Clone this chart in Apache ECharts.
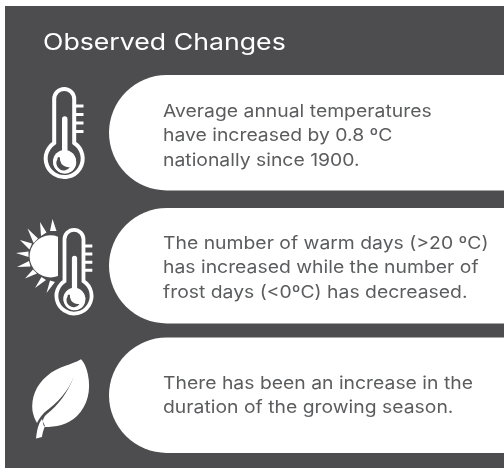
<!DOCTYPE html>
<html><head><meta charset="utf-8">
<style>html,body{margin:0;padding:0;background:#fff}#c{width:504px;height:468px}</style>
<script src="https://cdn.jsdelivr.net/npm/echarts@6/dist/echarts.min.js"></script></head>
<body><div id="c"></div>
<script>
const title = 'Observed Changes';
const panelColor = '#4d4d4f';
const textColor = '#5b5c5e';
const font = 'Inter, "Open Sans", sans-serif';
const card1 = ['Average annual temperatures', 'have increased by 0.8 ºC', 'nationally since 1900.'];
const card2 = ['The number of warm days (>20 ºC)', 'has increased while the number of', 'frost days (<0ºC) has decreased.'];
const card3 = ['There has been an increase in the', 'duration of the growing season.'];
const cards = [card1, card2, card3];
const cardTops = [75, 208, 337.5];
const cardHeight = 115.5;
const firstLineY = [111.3, 243.6, 383.6];

const thermoTube = 'M54.2 143 L54.2 99 A10 10 0 0 1 74.2 99 L74.2 143 A18.5 18.5 0 1 1 54.2 143 Z';
const thermoFill = 'M62 119 A2.7 2.7 0 0 1 67.5 119 L67.5 151 A11.5 11.5 0 1 1 62 151 Z';
const thermoMoon = 'M57.5 159 A7.2 7.2 0 0 0 70 167 A8.4 8.4 0 0 1 60 158 A1.3 1.3 0 0 0 57.5 159 Z';
const thermoTicks = 'M74 106 L83.5 106 M74 114.5 L83.5 114.5 M74 123 L83.5 123 M74 131.5 L83.5 131.5';
const sunDisc = 'M58 236.7 A21 21 0 1 0 58 276 Z';
const sunRays = 'M52.5 219 L56.5 231 L50 231 Z M40 222 L46.5 232.5 L41 236 Z M27.5 228.5 L38 238.5 L33.5 243 Z M20 240 L32 243.5 L29.5 249.5 Z M16 253 L28.5 251.5 L28.5 257 Z M17 267 L29 261 L30.5 266.5 Z M25 278.5 L33 269.5 L37 273.5 Z M35 288 L41.5 277 L46 280 Z M46.5 293 L50 280.5 L55 282 Z';
const leaf = 'M81 359.3 C72 365 58 366 47 376 C36 385 31 398 32.5 411 C33.5 416 35 420 37 423 C40 417 42 415 45 412 C58 402 68 392 74 376 C68 393 58 405 47 414 C43 417 41 423 45 427 C55 427 68 425 77 416 C88 405 91 390 88 375 C87 369 84 362 81 359.3 Z M45 426 C43 431 42 435 42 437 L36 438.5 C37 431 38 424 42 419 C43 422 44 424 45 426 Z';

function thermometer(x, y, s) {
  const base = {x: x, y: y, scaleX: s, scaleY: s};
  return [
    Object.assign({type: 'path', shape: {pathData: thermoTube}, style: {fill: 'none', stroke: '#fff', lineWidth: 4}}, base),
    Object.assign({type: 'path', shape: {pathData: thermoTicks}, style: {fill: 'none', stroke: '#fff', lineWidth: 3.2}}, base),
    Object.assign({type: 'circle', shape: {cx: 64.5, cy: 161.5, r: 11.5}, style: {fill: '#fff'}}, base),
    Object.assign({type: 'path', shape: {pathData: thermoFill}, style: {fill: '#fff'}}, base),
    Object.assign({type: 'path', shape: {pathData: thermoMoon}, style: {fill: panelColor}}, base)
  ];
}

function renderAll() {
  const els = [
    {type: 'rect', shape: {x: 5, y: 6, width: 499, height: 462}, style: {fill: panelColor}},
    {type: 'text', x: 43, y: 43.5, scaleX: 1.16, style: {text: title, fill: '#fff', font: '23px ' + font, verticalAlign: 'middle'}}
  ];
  cards.forEach(function (lines, i) {
    els.push({type: 'rect', shape: {x: 109, y: cardTops[i], width: 395, height: cardHeight, r: [58, 0, 0, 58]}, style: {fill: '#fff'}});
    lines.forEach(function (t, j) {
      els.push({type: 'text', x: 163, y: firstLineY[i] + j * (lines.length === 3 ? 24.5 : 24), scaleX: 1.1, style: {text: t, fill: textColor, font: '17.6px ' + font, verticalAlign: 'middle'}});
    });
  });
  thermometer(0, 0, 1).forEach(function (e) { els.push(e); });
  thermometer(13, 145.3, 0.95).forEach(function (e) { els.push(e); });
  els.push({type: 'path', shape: {pathData: sunDisc}, style: {fill: '#fff'}});
  els.push({type: 'path', shape: {pathData: sunRays}, style: {fill: '#fff'}});
  els.push({type: 'path', shape: {pathData: leaf}, style: {fill: '#fff'}});
  return {type: 'group', children: els};
}

const chart = echarts.init(document.getElementById('c'), null, {renderer: 'canvas'});
chart.setOption({
  animation: false,
  backgroundColor: '#fff',
  series: [{type: 'custom', coordinateSystem: 'none', silent: true, data: [0], renderItem: renderAll}]
});
</script></body></html>
